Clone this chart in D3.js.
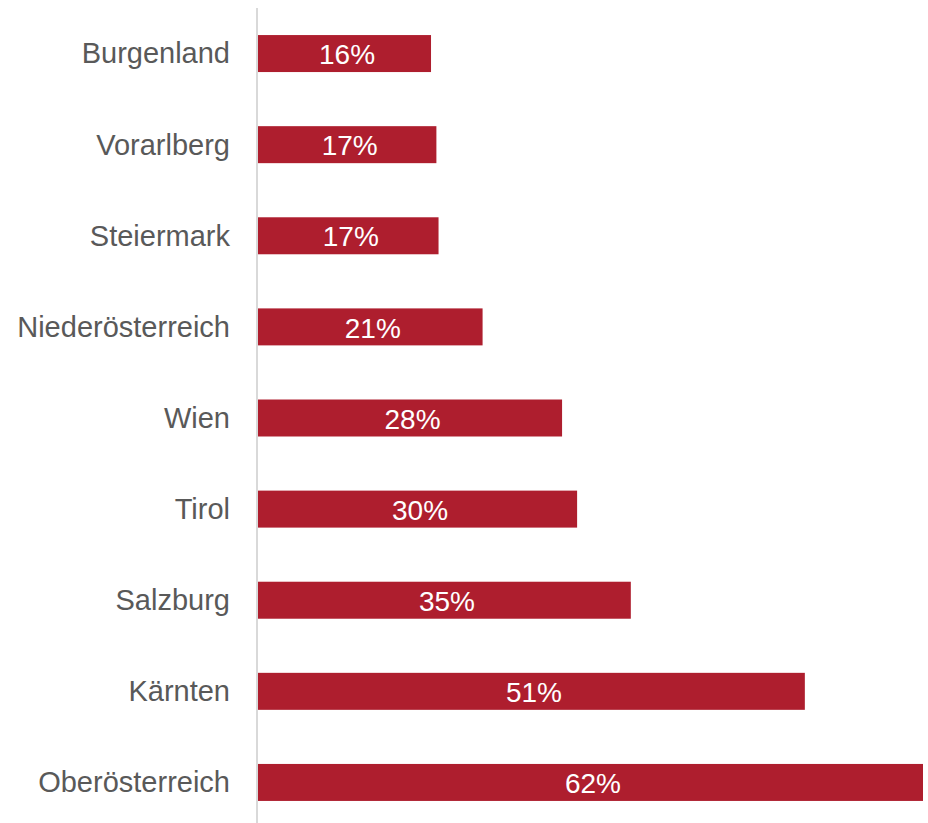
<!DOCTYPE html>
<html><head><meta charset="utf-8">
<script src="https://cdn.jsdelivr.net/npm/d3@7"></script>
<style>html,body{margin:0;padding:0;background:#fff;}</style>
</head><body>
<svg id="chart" width="928" height="823"></svg>
<script>
const categories = ["Burgenland","Vorarlberg","Steiermark","Niederösterreich","Wien","Tirol","Salzburg","Kärnten","Oberösterreich"];
const values = [16.2, 16.7, 16.9, 21.0, 28.4, 29.8, 34.8, 51.0, 62.0];
const labels = ["16%","17%","17%","21%","28%","30%","35%","51%","62%"];

const svg = d3.select("#chart");
const x = d3.scaleLinear().domain([0, 62]).range([257, 923]);
const y = d3.scaleBand().domain(categories).range([8, 828]).paddingInner(0.594).paddingOuter(0.297);
const font = "'Liberation Sans', Arial, sans-serif";

svg.selectAll("rect.bar").data(categories).join("rect")
  .attr("class","bar")
  .attr("x", x(0))
  .attr("y", d => y(d))
  .attr("width", (d,i) => x(values[i]) - x(0))
  .attr("height", y.bandwidth())
  .attr("fill", "#AE1E2E");

svg.append("line").attr("x1", 257).attr("x2", 257).attr("y1", 8).attr("y2", 823)
  .attr("stroke", "#d9d9d9").attr("stroke-width", 2);

svg.selectAll("text.cat").data(categories).join("text")
  .attr("class","cat")
  .attr("x", 230)
  .attr("y", d => y(d) + y.bandwidth()/2)
  .attr("dy", "0.34em")
  .attr("text-anchor", "end")
  .style("font-family", font)
  .style("font-size", "29px")
  .attr("fill", "#595959")
  .text(d => d);

svg.selectAll("text.val").data(categories).join("text")
  .attr("class","val")
  .attr("x", (d,i) => (x(0) + x(values[i]))/2 + 3)
  .attr("y", d => y(d) + y.bandwidth()/2)
  .attr("dy", "0.38em")
  .attr("text-anchor", "middle")
  .style("font-family", font)
  .style("font-size", "28px")
  .attr("fill", "#ffffff")
  .text((d,i) => labels[i]);
</script>
</body></html>
